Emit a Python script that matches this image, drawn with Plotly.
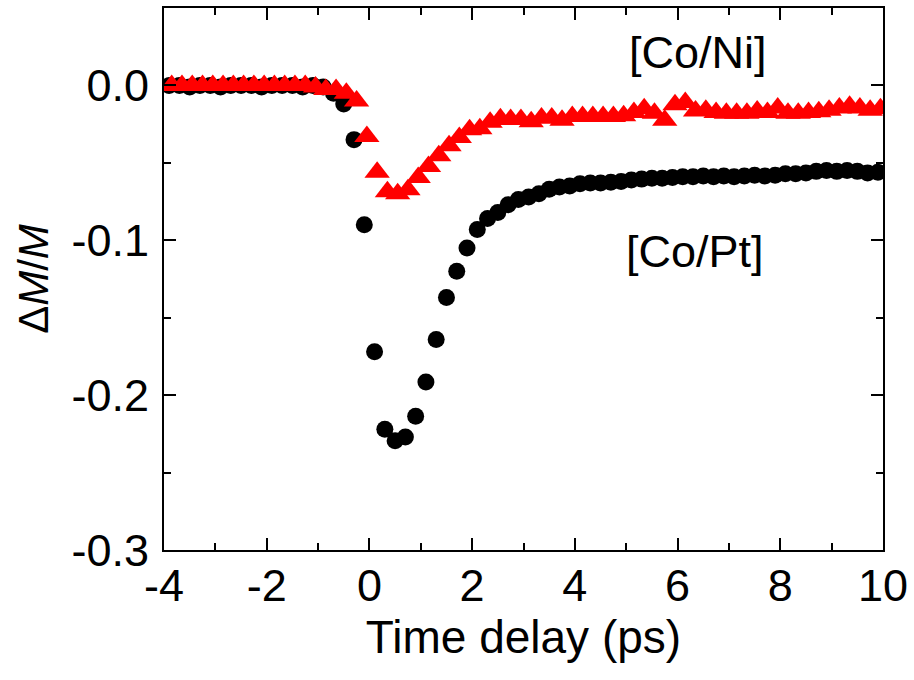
import plotly.graph_objects as go

# Time delays (ps)
t_copt = [-3.9, -3.7, -3.5, -3.3, -3.1, -2.9, -2.7, -2.5, -2.3, -2.1,
          -1.9, -1.7, -1.5, -1.3, -1.1, -0.9, -0.7, -0.5, -0.3, -0.1,
          0.1, 0.3, 0.5, 0.7, 0.9, 1.1, 1.3, 1.5, 1.7, 1.9,
          2.1, 2.3, 2.5, 2.7, 2.9, 3.1, 3.3, 3.5, 3.7, 3.9,
          4.1, 4.3, 4.5, 4.7, 4.9, 5.1, 5.3, 5.5, 5.7, 5.9,
          6.1, 6.3, 6.5, 6.7, 6.9, 7.1, 7.3, 7.5, 7.7, 7.9,
          8.1, 8.3, 8.5, 8.7, 8.9, 9.1, 9.3, 9.5, 9.7, 9.9]
dm_copt = [0.000, 0.000, -0.001, 0.000, 0.000, -0.001, 0.000, 0.000, 0.000, -0.001,
           0.000, 0.000, 0.000, -0.001, 0.000, -0.001, -0.005, -0.012, -0.035, -0.090,
           -0.172, -0.222, -0.2295, -0.227, -0.2136, -0.1915, -0.164, -0.137, -0.120, -0.105,
           -0.093, -0.086, -0.082, -0.077, -0.0736, -0.072, -0.070, -0.067, -0.0656, -0.065,
           -0.0635, -0.063, -0.063, -0.0625, -0.062, -0.061, -0.0605, -0.060, -0.060, -0.0595,
           -0.059, -0.059, -0.0585, -0.059, -0.0585, -0.059, -0.0585, -0.058, -0.0585, -0.058,
           -0.057, -0.057, -0.0565, -0.0555, -0.055, -0.0555, -0.055, -0.0555, -0.0565, -0.056]

t_coni = [-3.85, -3.65, -3.45, -3.25, -3.05, -2.85, -2.65, -2.45, -2.25, -2.05,
          -1.85, -1.65, -1.45, -1.25, -1.05, -0.85, -0.65, -0.45, -0.25, -0.05,
          0.15, 0.35, 0.55, 0.75, 0.95, 1.15, 1.35, 1.55, 1.75, 1.95,
          2.15, 2.35, 2.55, 2.75, 2.95, 3.15, 3.35, 3.55, 3.75, 3.95,
          4.15, 4.35, 4.55, 4.75, 4.95, 5.15, 5.35, 5.55, 5.75, 5.95,
          6.15, 6.35, 6.55, 6.75, 6.95, 7.15, 7.35, 7.55, 7.75, 7.95,
          8.15, 8.35, 8.55, 8.75, 8.95, 9.15, 9.35, 9.55, 9.75, 9.95]
dm_coni = [0.000, 0.000, 0.000, 0.000, 0.000, 0.000, 0.000, 0.000, 0.000, 0.000,
           0.000, 0.000, 0.000, 0.000, -0.001, -0.0026, -0.0026, -0.005, -0.010, -0.033,
           -0.056, -0.0686, -0.070, -0.0673, -0.0594, -0.0523, -0.0454, -0.039, -0.0337, -0.0287,
           -0.028, -0.0237, -0.0215, -0.022, -0.022, -0.0235, -0.021, -0.021, -0.0225, -0.020,
           -0.020, -0.020, -0.020, -0.020, -0.0195, -0.0175, -0.015, -0.018, -0.0225, -0.0125,
           -0.011, -0.0165, -0.016, -0.0175, -0.018, -0.018, -0.018, -0.0165, -0.0175, -0.0145,
           -0.018, -0.018, -0.0175, -0.017, -0.016, -0.0145, -0.0135, -0.0145, -0.016, -0.015]

x_tickvals = [-4, -2, 0, 2, 4, 6, 8, 10]
x_ticktext = ["-4", "-2", "0", "2", "4", "6", "8", "10"]
y_tickvals = [-0.3, -0.2, -0.1, 0.0]
y_ticktext = ["-0.3", "-0.2", "-0.1", "0.0"]

FONT = "Liberation Sans, Arial, sans-serif"

fig = go.Figure()
fig.add_trace(go.Scatter(
    x=t_copt, y=dm_copt, mode="markers", name="[Co/Pt]",
    marker=dict(symbol="circle", size=17, color="black", line=dict(width=0)),
))
fig.add_trace(go.Scatter(
    x=t_coni, y=dm_coni, mode="markers", name="[Co/Ni]",
    marker=dict(symbol="triangle-up", size=22, color="#ff0000", line=dict(width=0)),
))

axis_common = dict(
    showline=True, linecolor="black", linewidth=2, mirror="ticks",
    ticks="inside", ticklen=12, tickwidth=2, tickcolor="black",
    showgrid=False, zeroline=False,
    tickfont=dict(family=FONT, size=45, color="black"),
)

fig.update_xaxes(
    range=[-4, 10], tickvals=x_tickvals, ticktext=x_ticktext,
    minor=dict(ticks="inside", ticklen=7, tickwidth=2, tickcolor="black", dtick=1, tick0=-4),
    title=dict(text="Time delay (ps)", font=dict(family=FONT, size=46, color="black"), standoff=4),
    ticklabelstandoff=-5,
    **axis_common,
)
fig.update_yaxes(
    range=[-0.3, 0.05], tickvals=y_tickvals, ticktext=y_ticktext,
    minor=dict(ticks="inside", ticklen=7, tickwidth=2, tickcolor="black", dtick=0.05, tick0=0),
    title=dict(text="Δ<i>M</i>/<i>M</i>", font=dict(family=FONT, size=42, color="black"), standoff=10),
    ticklabelstandoff=4,
    **axis_common,
)

fig.add_annotation(x=6.39, y=0.0212, xref="x", yref="y", text="[Co/Ni]", showarrow=False,
                   font=dict(family=FONT, size=45, color="black"))
fig.add_annotation(x=6.33, y=-0.1075, xref="x", yref="y", text="[Co/Pt]", showarrow=False,
                   font=dict(family=FONT, size=45, color="black"))

fig.update_layout(
    width=914, height=680,
    margin=dict(l=164, r=26, t=6, b=130),
    paper_bgcolor="white", plot_bgcolor="white",
    showlegend=False,
)

fig.write_html("out.html", config={"displayModeBar": False},
               post_script="document.body.style.margin='0px';")
